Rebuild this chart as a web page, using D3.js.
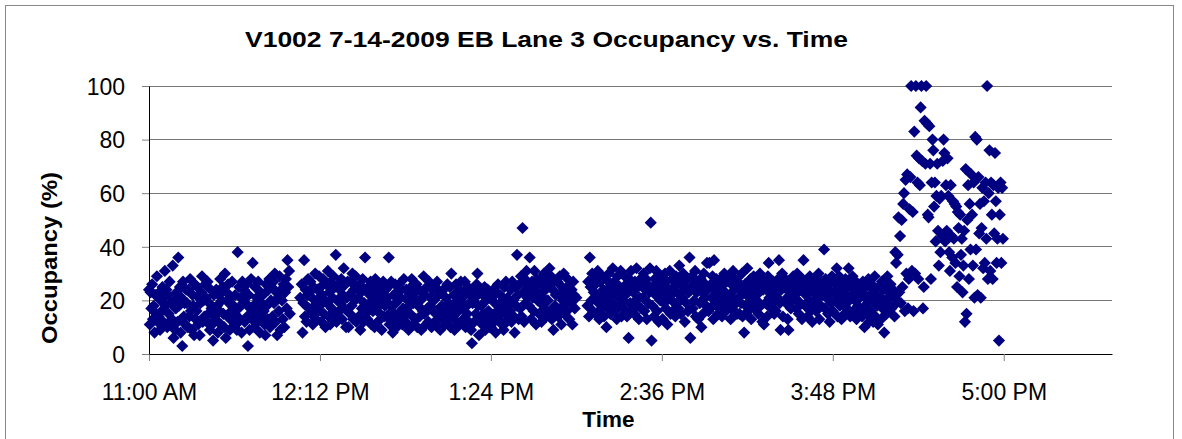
<!DOCTYPE html>
<html>
<head>
<meta charset="utf-8">
<script src="https://cdn.jsdelivr.net/npm/d3@7"></script>
<style>
  body { margin: 0; background: #fff; }
  svg { display: block; }
</style>
</head>
<body>
<script>
var svgWidth = 1182, svgHeight = 439;
var margin = {top: 86, right: 70, bottom: 85, left: 149};
var width = svgWidth - margin.left - margin.right;
var height = svgHeight - margin.top - margin.bottom;
var fontFamily = "Arial, 'Liberation Sans', sans-serif";

// detector samples every 20 s, one array per clock hour (null = no sample)
var sampleSeconds = 20;
var hourStarts = ["11:00", "12:00", "13:00", "14:00", "15:00", "16:00"];

var occ11 = [
  24, 11, 23, 17, 26, 13, 18, 8, 22, 15, 29, 12,
  14, 23, 9, 20, 16, 25, 12, 21, 31, 18, 24, 10,
  22, 15, 27, 11, 19, 13, 33, 6, 20, 9, 17, 23,
  12, 36, 18, 25, 8, 21, 3, 27, 14, 19, 11, 24,
  19, 10, 24, 14, 28, 16, 9, 22, 18, 7, 26, 13,
  16, 25, 11, 21, 7, 19, 23, 29, 12, 20, 14, 26,
  21, 12, 27, 15, 19, 9, 24, 17, 11, 5, 22, 14,
  13, 24, 18, 8, 22, 16, 28, 11, 20, 25, 15, 10,
  30, 6, 23, 14, 26, 19, 9, 21, 16, 27, 12, 18,
  15, 22, 11, 9, 38, 17, 25, 13, 21, 8, 27, 19,
  24, 12, 19, 26, 14, 3, 22, 9, 17, 28, 13, 34,
  18, 10, 25, 15, 21, 12, 27, 16, 8, 23, 19, 14,
  22, 16, 11, 7, 26, 18, 13, 24, 28, 10, 20, 25,
  14, 27, 19, 30, 12, 23, 7, 21, 16, 29, 9, 24,
  20, 13, 26, 10, 23, 28, 17, 35, 25, 31, 15, null
];
var occ12 = [
  null, null, null, null, null, null, null, null, null, null, null, 21,
  null, 26, 8, 19, 35, 14, 24, 12, 22, 28, 17, 23,
  27, 15, 21, 11, 25, 18, 30, 13, 20, 24, 16, 29,
  18, 25, 12, 22, 28, 15, 20, 10, 26, 19, 31, 14,
  23, 11, 27, 17, 21, 29, 14, 25, 37, 12, 20, 26,
  16, 24, 19, 28, 13, 22, 32, 17, 26, 10, 21, 27,
  10, 22, 15, 27, 18, 30, 13, 24, 20, 29, 12, 25,
  21, 14, 26, 9, 23, 17, 28, 12, 19, 36, 15, 24,
  13, 25, 18, 22, 27, 11, 20, 16, 24, 10, 28, 17,
  22, 12, 19, 26, 15, 23, 9, 20, 27, 14, 18, 24,
  14, 21, 25, 36, 11, 18, 27, 16, 8, 22, 13, 26,
  19, 10, 23, 15, 26, 13, 21, 24, 11, 17, 28, 14,
  12, 24, 17, 20, 9, 22, 15, 25, 28, 11, 19, 23,
  21, 13, 26, 10, 18, 24, 14, 20, 9, 23, 16, 29,
  15, 22, 11, 25, 17, 12, 27, 18, 21, 10, 24, 16
];
var occ13 = [
  20, 12, 25, 16, 27, 10, 22, 14, 9, 23, 18, 13,
  24, 15, 11, 21, 17, 26, 13, 19, 25, 10, 30, 16,
  14, 22, 9, 18, 26, 12, 20, 16, 24, 11, 27, 19,
  21, 13, 17, 27, 10, 23, 15, 25, 12, 19, 22, 9,
  4, 19, 24, 12, 21, 15, 26, 30, 18, 7, 23, 14,
  18, 11, 22, 15, 25, 9, 20, 13, 24, 16, 10, 21,
  10, 21, 14, 24, 12, 19, 8, 23, 16, 26, 13, 18,
  22, 15, 11, 20, 9, 25, 17, 27, 12, 21, 14, 19,
  16, 24, 12, 27, 20, 14, 8, 25, 18, 37, 22, 13,
  26, 17, 29, 14, 47, 23, 12, 28, 19, 31, 21, 25,
  18, 36, 24, 13, 27, 21, 16, 31, 25, 11, 28, 20,
  23, 15, 28, 19, 12, 26, 21, 30, 17, 24, 14, 27,
  20, 26, 32, 16, 29, 13, 24, 9, 27, 18, 22, 15,
  27, 14, 22, 29, 17, 11, 25, 20, 30, 15, 23, 19,
  16, 28, 21, 13, 26, 19, 24, 11, 27, 22, 17, null
];
var occ14 = [
  21, null, null, null, null, null, null, null, null, null, null, null,
  null, null, 18, 27, 14, 36, 25, 20, 30, 16, 23, 28,
  26, 15, 22, 31, 19, 13, 27, 21, 17, 29, 24, 14,
  20, 28, 10, 24, 17, 30, 22, 15, 26, 19, 32, 23,
  27, 16, 23, 13, 29, 21, 18, 25, 31, 14, 24, 20,
  17, 29, 22, 26, 14, 24, 6, 28, 19, 31, 16, 25,
  23, 15, 27, 20, 32, 18, 25, 13, 21, 28, 17, 26,
  21, 30, 16, 24, 28, 13, 26, 19, 23, 32, 49, 5,
  18, 25, 14, 28, 22, 31, 16, 24, 12, 27, 20, 29,
  26, 13, 23, 19, 30, 17, 27, 11, 24, 21, 31, 15,
  22, 28, 16, 25, 19, 14, 29, 23, 26, 17, 33, 20,
  15, 27, 21, 30, 24, 12, 25, 19, 28, 16, 23, 36,
  6, 24, 29, 17, 26, 20, 31, 14, 23, 27, 13, 25,
  19, 28, 10, 23, 15, 30, 21, 26, 18, 34, 24, 16,
  34, 17, 26, 21, 29, 13, 35, 24, 19, 28, 22, 15
];
var occ15 = [
  25, 17, 28, 21, 14, 26, 19, 30, 23, 16, 27, 20,
  18, 29, 22, 13, 26, 20, 31, 16, 24, 28, 19, 15,
  27, 21, 15, 25, 19, 30, 14, 23, 8, 26, 18, 22,
  32, 16, 24, 19, 28, 13, 25, 21, 29, 17, 23, 26,
  20, 27, 15, 23, 30, 18, 26, 12, 24, 11, 28, 19,
  24, 14, 29, 34, 21, 26, 17, 23, 19, 27, 15, 22,
  16, 25, 21, 28, 35, 19, 9, 24, 30, 14, 26, 20,
  28, 19, 24, 13, 9, 27, 22, 17, 25, 20, 29, 23,
  21, 26, 17, 30, 23, 15, 27, 19, 24, 13, 28, 35,
  25, 18, 22, 27, 14, 24, 20, 29, 16, 26, 12, 23,
  19, 28, 24, 16, 26, 21, 30, 13, 23, 18, 27, 22,
  24, 39, 17, 28, 21, 25, 15, 27, 12, 23, 19, 29,
  16, 23, 27, 20, 26, 32, 14, 24, 29, 18, 22, 13,
  26, 19, 24, 15, 28, 22, 17, 25, 32, 20, 14, 27,
  22, 29, 16, 24, 20, 27, 13, 23, 18, 26, 21, 15
];
var occ16 = [
  23, 14, 27, 17, 10, 21, 25, 15, 19, 28, 12, 22,
  16, 26, 20, 12, 24, 29, 14, 22, 18, 11, 25, 19,
  21, 13, 27, 17, 24, 8, 20, 26, 15, 29, 18, 23,
  21, 26, 17, 22, 24, 18, 14, 38, 34, 20, 37, 51,
  23, 44, 19, 50, 25, 56, 60, 16, 65, 30, 67, 17,
  28, 54, 66, 100, 31, 53, 16, 83, 30, 100, 74, 64,
  28, 73, 63, 92, 100, 72, 17, 25, 87, 71, 100, 86,
  52, 51, 85, 71, 28, 64, 80, 76, 55, 64, 42, 59,
  71, 46, 33, 58, 38, 59, 44, 72, 80, 75, 42, 63,
  46, 73, 59, 38, 31, 63, 44, 36, 57, 43, 56, 34,
  55, 25, 53, 47, 29, 52, 37, 43, 23, 33, 46, 12,
  69, 15, 50, 63, 28, 56, 39, 67, 52, 33, 64, 21,
  81, 39, 80, 22, 66, 45, 56, 21, 47, 62, 32, 57,
  34, 64, 43, 100, 28, 60, 76, 31, 64, 52, 28, 63,
  45, 75, 57, 34, 43, 62, 5, 52, 64, 34, 62, 43
];
var hourSeries = [occ11, occ12, occ13, occ14, occ15, occ16];

var xTickTimes = ["11:00", "12:12", "13:24", "14:36", "15:48", "17:00"];
var yTickValues = [0, 20, 40, 60, 80, 100];
var xExtent = ["11:00:00", "17:45:36"];

var parseHM = d3.timeParse("%H:%M");
var parseHMS = d3.timeParse("%H:%M:%S");
var formatTick = d3.timeFormat("%-I:%M %p");

var data = [];
hourSeries.forEach(function (values, h) {
  var start = parseHM(hourStarts[h]);
  values.forEach(function (v, i) {
    if (v === null) return;
    data.push({date: new Date(start.getTime() + i * sampleSeconds * 1000), occ: v});
  });
});

var x = d3.scaleTime().domain(xExtent.map(parseHMS)).range([0, width]);
var y = d3.scaleLinear().domain([0, 100]).range([height, 0]);

var root = d3.select("body").append("svg")
    .attr("width", svgWidth)
    .attr("height", svgHeight);

// chart area border
root.append("rect")
    .attr("x", 5.5).attr("y", 5.5)
    .attr("width", 1168).attr("height", 460)
    .attr("fill", "#fff")
    .attr("stroke", "#888");

var svg = root.append("g")
    .attr("transform", "translate(" + margin.left + "," + margin.top + ")");

// gridlines
svg.append("g").selectAll("line")
    .data(yTickValues.filter(function (d) { return d > 0; }))
  .enter().append("line")
    .attr("x1", 0).attr("x2", width)
    .attr("y1", function (d) { return y(d); })
    .attr("y2", function (d) { return y(d); })
    .attr("stroke", "#777")
    .attr("shape-rendering", "crispEdges");

// points
var diamond = d3.symbol().type(d3.symbolSquare).size(74);
svg.append("g").selectAll("path")
    .data(data)
  .enter().append("path")
    .attr("d", diamond)
    .attr("transform", function (d) {
      return "translate(" + x(d.date) + "," + y(d.occ) + ") rotate(45)";
    })
    .attr("fill", "#000080");

// X axis
var xAxis = svg.append("g")
    .attr("transform", "translate(0," + height + ")")
    .call(d3.axisBottom(x)
      .tickValues(xTickTimes.map(parseHM))
      .tickFormat(formatTick)
      .tickSizeInner(7)
      .tickSizeOuter(0));
xAxis.attr("font-size", 23).attr("font-family", fontFamily);
xAxis.select(".domain").attr("stroke", "#000");
xAxis.selectAll(".tick line").attr("stroke", "#808080");
xAxis.selectAll(".tick text").attr("fill", "#000").attr("y", 30).attr("dy", "0.71em");

// Y axis
var yAxis = svg.append("g")
    .call(d3.axisLeft(y)
      .tickValues(yTickValues)
      .tickSizeInner(7)
      .tickSizeOuter(0)
      .tickPadding(17));
yAxis.attr("font-size", 23).attr("font-family", fontFamily);
yAxis.select(".domain").attr("stroke", "#000");
yAxis.selectAll(".tick line").attr("stroke", "#808080");
yAxis.selectAll(".tick text").attr("fill", "#000").attr("dy", "0.36em");

// titles
root.append("text")
    .attr("x", 546.5).attr("y", 46.7)
    .attr("text-anchor", "middle")
    .attr("font-family", fontFamily)
    .attr("font-weight", "bold")
    .attr("font-size", 22.5)
    .attr("textLength", 603)
    .attr("lengthAdjust", "spacingAndGlyphs")
    .text("V1002 7-14-2009 EB Lane 3 Occupancy vs. Time");

root.append("text")
    .attr("x", 608.4).attr("y", 426.7)
    .attr("text-anchor", "middle")
    .attr("font-family", fontFamily)
    .attr("font-weight", "bold")
    .attr("font-size", 22.5)
    .text("Time");

root.append("text")
    .attr("transform", "translate(57,344) rotate(-90)")
    .attr("text-anchor", "start")
    .attr("font-family", fontFamily)
    .attr("font-weight", "bold")
    .attr("font-size", 22.5)
    .attr("textLength", 172)
    .attr("lengthAdjust", "spacingAndGlyphs")
    .text("Occupancy (%)");
</script>
</body>
</html>
